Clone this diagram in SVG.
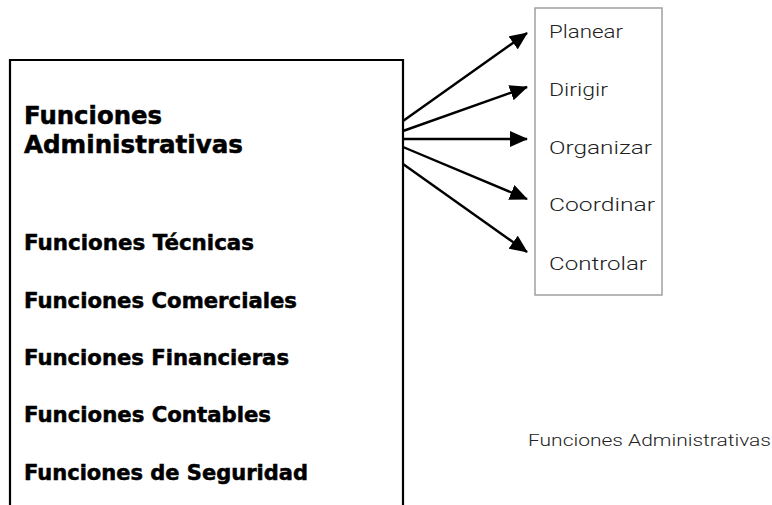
<svg xmlns="http://www.w3.org/2000/svg" width="772" height="505" viewBox="0 0 772 505">
<style>
.bold{font-family:"DejaVu Sans","Liberation Sans",sans-serif;font-weight:bold;fill:#000;stroke:#000;stroke-width:0.5}
.light{font-family:Roboto,"Liberation Sans",sans-serif;font-weight:300;fill:#222;font-size:19px}
.conn{stroke:#000;stroke-width:2.4;fill:none}
</style>
<defs>
<marker id="ah" markerUnits="userSpaceOnUse" markerWidth="20" markerHeight="16" refX="17" refY="8" orient="auto">
<path d="M0,0 L18,8 L0,16 Z" fill="#000"/>
</marker>
</defs>
<rect width="772" height="505" fill="#fff"/>
<g id="main-box">
<path d="M10,510 V60 H403 V510" fill="none" stroke="#000" stroke-width="2.2"/>
<text class="bold" x="24" y="124" font-size="24.5" textLength="138" lengthAdjust="spacingAndGlyphs">Funciones</text>
<text class="bold" x="24" y="153" font-size="24.5" textLength="219" lengthAdjust="spacingAndGlyphs">Administrativas</text>
<text class="bold" x="24" y="250" font-size="20.5" textLength="230" lengthAdjust="spacingAndGlyphs">Funciones Técnicas</text>
<text class="bold" x="24" y="308" font-size="20.5" textLength="273" lengthAdjust="spacingAndGlyphs">Funciones Comerciales</text>
<text class="bold" x="24" y="365" font-size="20.5" textLength="265" lengthAdjust="spacingAndGlyphs">Funciones Financieras</text>
<text class="bold" x="24" y="422" font-size="20.5" textLength="247" lengthAdjust="spacingAndGlyphs">Funciones Contables</text>
<text class="bold" x="24" y="480" font-size="20.5" textLength="284" lengthAdjust="spacingAndGlyphs">Funciones de Seguridad</text>
</g>
<g id="functions-box">
<rect x="535" y="8" width="127" height="287" fill="none" stroke="#a0a0a0" stroke-width="1.5"/>
<text class="light" x="549" y="38" textLength="74" lengthAdjust="spacingAndGlyphs">Planear</text>
<text class="light" x="549" y="96" textLength="59" lengthAdjust="spacingAndGlyphs">Dirigir</text>
<text class="light" x="549" y="154" textLength="103" lengthAdjust="spacingAndGlyphs">Organizar</text>
<text class="light" x="549" y="211" textLength="106" lengthAdjust="spacingAndGlyphs">Coordinar</text>
<text class="light" x="549" y="270" textLength="98" lengthAdjust="spacingAndGlyphs">Controlar</text>
</g>
<g id="caption">
<text class="light" x="528" y="446" textLength="243" lengthAdjust="spacingAndGlyphs" style="font-size:16px">Funciones Administrativas</text>
</g>
<g id="connectors">
<line class="conn" x1="403" y1="121" x2="527" y2="33" marker-end="url(#ah)"/>
<line class="conn" x1="403" y1="131" x2="527" y2="87" marker-end="url(#ah)"/>
<line class="conn" x1="403" y1="139" x2="527" y2="139" marker-end="url(#ah)"/>
<line class="conn" x1="403" y1="147" x2="527" y2="199" marker-end="url(#ah)"/>
<line class="conn" x1="403" y1="164" x2="527" y2="252" marker-end="url(#ah)"/>
</g>
</svg>
